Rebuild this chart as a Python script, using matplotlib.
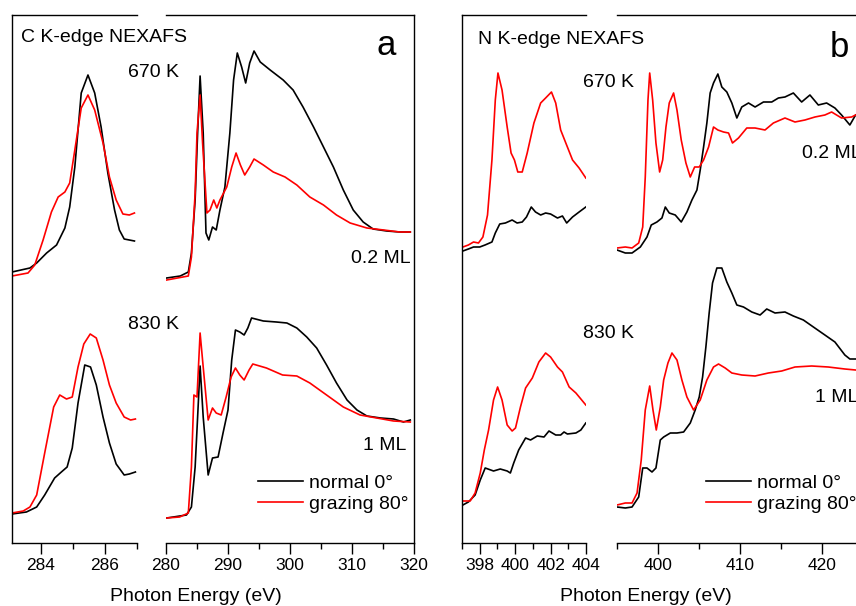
import numpy as np
import matplotlib
matplotlib.use("Agg")
import matplotlib.pyplot as plt
from matplotlib.ticker import MultipleLocator

plt.rcParams['font.family'] = ['Liberation Sans', 'DejaVu Sans']

# ---------------- Panel a: C K-edge (zoom window 283.1-287 eV) ----------------
c_zoom_670_normal_x = [283.1, 283.66, 283.87, 284.18, 284.49, 284.75, 284.9, 285.06, 285.26, 285.47,
                       285.68, 285.88, 286.09, 286.3, 286.45, 286.6, 286.92]
c_zoom_670_normal_y = [271, 275, 280, 290, 298, 315, 336, 376, 450, 468, 450, 416, 370, 333, 313, 304, 302]
c_zoom_670_grazing_x = [283.1, 283.6, 283.81, 284.07, 284.33, 284.54, 284.75, 284.9, 285.06, 285.26, 285.47,
                        285.68, 285.94, 286.14, 286.35, 286.56, 286.76, 286.92]
c_zoom_670_grazing_y = [267, 270, 278, 303, 331, 346, 351, 360, 393, 435, 448, 433, 400, 366, 343, 329, 328, 330]

c_zoom_830_normal_x = [283.1, 283.55, 283.87, 284.12, 284.43, 284.64, 284.82, 284.98, 285.16, 285.37,
                       285.55, 285.73, 285.94, 286.14, 286.35, 286.6, 286.76, 286.95]
c_zoom_830_normal_y = [29, 31, 36, 48, 65, 71, 76, 95, 140, 178, 176, 158, 126, 100, 79, 68, 69, 71]
c_zoom_830_grazing_x = [283.1, 283.45, 283.66, 283.87, 284.12, 284.4, 284.59, 284.8, 284.98, 285.16, 285.34,
                        285.54, 285.73, 285.94, 286.14, 286.35, 286.6, 286.8, 286.95]
c_zoom_830_grazing_y = [30, 32, 36, 48, 90, 136, 148, 144, 146, 176, 199, 209, 205, 183, 158, 140, 126, 123, 124]

# ---------------- Panel a: C K-edge (full window 280-320 eV) ----------------
c_full_670_normal_x = [280.1, 282.3, 283.6, 284.1, 284.7, 285.1, 285.5, 286.0, 286.45, 286.9, 287.5, 288.1,
                       288.7, 289.5, 290.3, 290.9, 291.5, 292.2, 292.85, 293.5, 294.2, 295.2, 296.8, 298.9,
                       300.5, 302.1, 303.8, 305.4, 307.0, 308.6, 310.2, 311.8, 313.4, 315.6, 317.7, 319.4]
c_full_670_normal_y = [265, 267, 271, 290, 343, 410, 467, 410, 310, 303, 316, 313, 333, 356, 410, 463, 490,
                       476, 460, 480, 492, 481, 473, 463, 453, 436, 416, 396, 376, 353, 333, 321, 314, 312,
                       311, 311]
c_full_670_grazing_x = [280.1, 283.6, 284.1, 284.7, 285.0, 285.5, 285.9, 286.6, 287.1, 287.7, 288.2, 288.7,
                        289.8, 290.6, 291.3, 292.0, 292.7, 293.5, 294.2, 295.7, 297.3, 299.2, 301.1, 303.2,
                        305.4, 307.5, 309.7, 312.4, 315.1, 317.7, 319.4]
c_full_670_grazing_y = [263, 267, 286, 350, 410, 448, 400, 330, 333, 343, 335, 343, 356, 376, 390, 378, 368,
                        376, 384, 378, 371, 366, 358, 346, 338, 328, 320, 315, 313, 311, 311]

c_full_830_normal_x = [280.1, 283.3, 284.1, 284.7, 285.1, 285.5, 286.0, 286.8, 287.5, 288.4, 289.2, 290.0,
                       290.6, 291.2, 291.9, 292.6, 293.2, 293.8, 295.7, 297.8, 299.5, 301.1, 302.7, 304.3,
                       305.9, 307.5, 309.2, 310.8, 312.4, 314.6, 316.7, 318.3, 319.4]
c_full_830_normal_y = [25, 28, 36, 76, 126, 177, 126, 68, 85, 86, 110, 133, 183, 213, 211, 208, 215, 225,
                       222, 221, 220, 215, 206, 195, 178, 160, 143, 133, 127, 125, 124, 121, 123]
c_full_830_grazing_x = [280.1, 282.2, 283.6, 284.1, 284.5, 285.0, 285.5, 286.0, 286.8, 287.5, 288.1, 288.9,
                        289.7, 290.5, 291.2, 291.9, 292.6, 293.4, 294.0, 296.2, 298.8, 301.1, 303.2, 305.9,
                        308.6, 311.3, 314.0, 316.7, 319.4]
c_full_830_grazing_y = [25, 26, 30, 76, 148, 146, 210, 176, 123, 135, 130, 128, 146, 166, 175, 168, 163,
                        173, 179, 175, 168, 167, 160, 148, 136, 128, 125, 122, 121]

# ---------------- Panel b: N K-edge (zoom window 397-404 eV) ----------------
n_zoom_670_normal_x = [397.05, 397.36, 397.65, 398.0, 398.3, 398.69, 398.88, 399.13, 399.45, 399.83, 400.11,
                       400.4, 400.64, 400.91, 401.15, 401.44, 401.72, 402.0, 402.39, 402.67, 402.91, 403.24,
                       403.61, 403.99]
n_zoom_670_normal_y = [292, 294, 296, 296, 298, 301, 310, 319, 320, 323, 320, 321, 326, 336, 331, 328, 330,
                       329, 325, 327, 320, 326, 331, 336]
n_zoom_670_grazing_x = [397.05, 397.36, 397.65, 397.93, 398.18, 398.44, 398.69, 398.88, 399.03, 399.26,
                        399.55, 399.77, 399.96, 400.15, 400.4, 400.68, 401.06, 401.44, 401.72, 402.05, 402.29,
                        402.57, 402.86, 403.24, 403.61, 403.99]
n_zoom_670_grazing_y = [296, 298, 301, 300, 306, 328, 383, 443, 470, 453, 416, 390, 383, 371, 371, 390, 420,
                        440, 445, 451, 440, 413, 400, 383, 375, 365]

n_zoom_830_normal_x = [397.05, 397.36, 397.74, 398.03, 398.31, 398.78, 399.16, 399.55, 399.73, 399.92, 400.2,
                       400.59, 400.87, 401.25, 401.63, 401.91, 402.29, 402.57, 402.76, 402.95, 403.43, 403.71,
                       403.99]
n_zoom_830_normal_y = [38, 41, 48, 63, 75, 72, 74, 72, 70, 80, 93, 105, 103, 107, 106, 112, 108, 108, 111,
                       109, 110, 113, 120]
n_zoom_830_grazing_x = [397.05, 397.46, 397.74, 398.03, 398.26, 398.5, 398.78, 399.01, 399.26, 399.55,
                        399.83, 400.02, 400.3, 400.59, 400.97, 401.34, 401.72, 402.0, 402.39, 402.67, 403.05,
                        403.43, 403.99]
n_zoom_830_grazing_y = [42, 42, 50, 70, 93, 113, 143, 156, 143, 118, 112, 115, 136, 155, 165, 181, 190, 186,
                        176, 171, 156, 150, 138]

# ---------------- Panel b: N K-edge (full window 395-425 eV) ----------------
n_full_670_normal_x = [395.05, 396.06, 396.88, 397.89, 398.7, 399.22, 399.91, 400.52, 400.93, 401.41, 402.14,
                       402.87, 403.56, 404.17, 404.78, 405.18, 405.59, 405.99, 406.39, 406.8, 407.33, 407.81,
                       408.42, 409.03, 409.64, 410.24, 411.06, 411.86, 412.88, 413.89, 414.7, 415.5, 416.52,
                       417.53, 418.54, 419.56, 420.57, 421.58, 422.39, 423.4, 424.1]
n_full_670_normal_y = [293, 290, 290, 296, 306, 318, 321, 325, 336, 330, 328, 321, 331, 343, 353, 373, 396,
                       420, 450, 460, 469, 456, 451, 440, 425, 436, 440, 436, 441, 441, 445, 446, 450, 441,
                       448, 438, 440, 435, 428, 418, 428]
n_full_670_grazing_x = [395.05, 396.06, 396.88, 397.69, 398.18, 398.49, 398.82, 399.03, 399.39, 399.79,
                        400.24, 400.61, 401.01, 401.41, 401.94, 402.35, 402.87, 403.44, 403.97, 404.5, 405.06,
                        405.59, 406.2, 406.8, 407.33, 408.02, 408.63, 409.11, 409.84, 410.85, 411.86, 413.07,
                        414.09, 415.5, 416.72, 417.93, 419.15, 420.36, 421.18, 422.39, 423.61, 424.1]
n_full_670_grazing_y = [295, 296, 295, 300, 316, 366, 443, 470, 443, 400, 371, 383, 416, 440, 450, 433, 403,
                        380, 366, 376, 376, 383, 396, 416, 413, 411, 410, 400, 405, 415, 415, 413, 420, 425,
                        421, 423, 426, 428, 431, 425, 426, 428]

n_full_830_normal_x = [395.05, 396.06, 396.88, 397.69, 398.18, 398.7, 399.31, 399.79, 400.32, 400.73, 401.54,
                       402.35, 403.16, 403.97, 404.57, 405.06, 405.47, 405.87, 406.27, 406.68, 407.21, 407.81,
                       408.42, 409.03, 409.64, 410.45, 411.46, 412.47, 413.28, 414.29, 415.5, 416.52, 417.74,
                       418.96, 420.36, 421.58, 422.79, 423.4, 424.1]
n_full_830_normal_y = [36, 35, 36, 46, 75, 75, 71, 75, 103, 106, 110, 110, 111, 120, 133, 146, 166, 196,
                       230, 260, 275, 275, 261, 250, 238, 236, 231, 228, 234, 230, 231, 227, 223, 216, 208,
                       201, 188, 184, 184]
n_full_830_grazing_x = [395.05, 396.06, 396.88, 397.49, 398.0, 398.49, 399.03, 399.43, 399.83, 400.32,
                        400.73, 401.25, 401.74, 402.35, 402.95, 403.56, 404.37, 405.18, 405.99, 406.8, 407.41,
                        408.22, 409.03, 410.24, 411.86, 413.48, 415.1, 416.72, 418.75, 420.77, 422.79, 424.1]
n_full_830_grazing_y = [38, 40, 40, 50, 83, 133, 157, 133, 113, 136, 163, 180, 190, 183, 163, 146, 133, 143,
                        163, 176, 179, 175, 170, 168, 167, 170, 172, 176, 177, 176, 174, 173]

legend_labels = ["normal 0°", "grazing 80°"]
series_colors = ["#000000", "#ff0000"]

W, H = 856, 606
fig = plt.figure(figsize=(W / 100, H / 100), dpi=100)

Y0, Y1 = 543, 15  # bottom / top axis pixel rows
YLIM = (0, Y0 - Y1)


def add_axes(xl, xr):
    return fig.add_axes([xl / W, 1 - Y0 / H, (xr - xl) / W, (Y0 - Y1) / H])


def style(ax, xlim, major, minor, left_side):
    ax.set_xlim(*xlim)
    ax.set_ylim(*YLIM)
    ax.xaxis.set_major_locator(MultipleLocator(major))
    ax.xaxis.set_minor_locator(MultipleLocator(minor))
    ax.tick_params(axis='x', which='major', direction='out', length=8, width=1.0, labelsize=12.5, pad=3)
    ax.tick_params(axis='x', which='minor', direction='out', length=4, width=1.0)
    ax.set_yticks([])
    for s in ax.spines.values():
        s.set_linewidth(1.0)
    if left_side:
        ax.spines['right'].set_visible(False)
    else:
        ax.spines['left'].set_visible(False)
    ax.patch.set_alpha(0)


LW = 1.2

# Panel a
ax_a1 = add_axes(12, 137)
style(ax_a1, (283.1, 287), 2, 1, True)
ax_a1.plot(c_zoom_670_normal_x, c_zoom_670_normal_y, color=series_colors[0], lw=LW)
ax_a1.plot(c_zoom_670_grazing_x, c_zoom_670_grazing_y, color=series_colors[1], lw=LW)
ax_a1.plot(c_zoom_830_normal_x, c_zoom_830_normal_y, color=series_colors[0], lw=LW)
ax_a1.plot(c_zoom_830_grazing_x, c_zoom_830_grazing_y, color=series_colors[1], lw=LW)

ax_a2 = add_axes(166, 414)
style(ax_a2, (280, 320), 10, 5, False)
h1, = ax_a2.plot(c_full_670_normal_x, c_full_670_normal_y, color=series_colors[0], lw=LW)
h2, = ax_a2.plot(c_full_670_grazing_x, c_full_670_grazing_y, color=series_colors[1], lw=LW)
ax_a2.plot(c_full_830_normal_x, c_full_830_normal_y, color=series_colors[0], lw=LW)
ax_a2.plot(c_full_830_grazing_x, c_full_830_grazing_y, color=series_colors[1], lw=LW)

# Panel b
ax_b1 = add_axes(462, 586)
style(ax_b1, (397, 404), 2, 1, True)
ax_b1.plot(n_zoom_670_normal_x, n_zoom_670_normal_y, color=series_colors[0], lw=LW)
ax_b1.plot(n_zoom_670_grazing_x, n_zoom_670_grazing_y, color=series_colors[1], lw=LW)
ax_b1.plot(n_zoom_830_normal_x, n_zoom_830_normal_y, color=series_colors[0], lw=LW)
ax_b1.plot(n_zoom_830_grazing_x, n_zoom_830_grazing_y, color=series_colors[1], lw=LW)

ax_b2 = add_axes(616.6, 863)
style(ax_b2, (395, 425), 10, 5, False)
g1, = ax_b2.plot(n_full_670_normal_x, n_full_670_normal_y, color=series_colors[0], lw=LW)
g2, = ax_b2.plot(n_full_670_grazing_x, n_full_670_grazing_y, color=series_colors[1], lw=LW)
ax_b2.plot(n_full_830_normal_x, n_full_830_normal_y, color=series_colors[0], lw=LW)
ax_b2.plot(n_full_830_grazing_x, n_full_830_grazing_y, color=series_colors[1], lw=LW)


def ftext(px, py, s, size=14, ha='left'):
    fig.text(px / W, 1 - py / H, s, fontsize=size, ha=ha, va='baseline')


# Legends
for ax, handles, x_px in ((ax_a2, (h1, h2), 258), (ax_b2, (g1, g2), 706)):
    fig.legend(handles, legend_labels, loc='center left',
               bbox_to_anchor=(x_px / W, 1 - 493.5 / H), frameon=False,
               fontsize=14, handlelength=2.3, handletextpad=0.3, labelspacing=0.2,
               borderpad=0, borderaxespad=0)

# Annotations panel a
ftext(21, 42, "C K-edge NEXAFS")
ftext(376, 55, "a", size=25)
ftext(128, 77, "670 K")
ftext(351, 263, "0.2 ML")
ftext(128, 329, "830 K")
ftext(363, 450, "1 ML")
ftext(196, 601, "Photon Energy (eV)", ha='center')

# Annotations panel b
ftext(478, 44, "N K-edge NEXAFS")
ftext(830, 57, "b", size=25)
ftext(583, 87, "670 K")
ftext(802, 158, "0.2 ML")
ftext(583, 338, "830 K")
ftext(815, 402, "1 ML")
ftext(646, 601, "Photon Energy (eV)", ha='center')

fig.savefig("out.png", dpi=100)
